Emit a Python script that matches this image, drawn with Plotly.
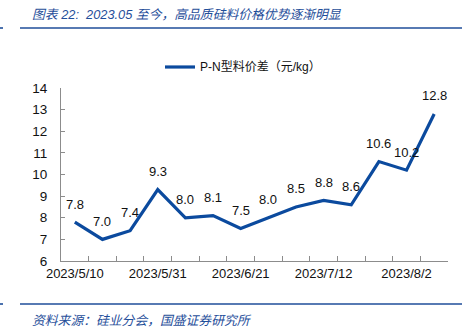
import plotly.graph_objects as go

# Weekly P-N polysilicon price spread (yuan/kg)
dates = ["2023/5/10", "2023/5/17", "2023/5/24", "2023/5/31", "2023/6/7",
         "2023/6/14", "2023/6/21", "2023/6/28", "2023/7/5", "2023/7/12",
         "2023/7/19", "2023/7/26", "2023/8/2", "2023/8/9"]
spread = [7.8, 7.0, 7.4, 9.3, 8.0, 8.1, 7.5, 8.0, 8.5, 8.8, 8.6, 10.6, 10.2, 12.8]
series_name = "P-N型料价差（元/kg）"
y_ticks = [6, 7, 8, 9, 10, 11, 12, 13, 14]
title_text = "图表 22:  2023.05 至今，高品质硅料价格优势逐渐明显"
source_text = "资料来源：硅业分会，国盛证券研究所"

line_color = "#0B4A9E"
title_color = "#1F4E9A"
axis_color = "#8C8C8C"
font_main = "Liberation Sans, Arial, Noto Sans CJK SC"

tick_labels = [d if i % 3 == 0 else "" for i, d in enumerate(dates)]

fig = go.Figure()
fig.add_trace(go.Scatter(
    x=dates, y=spread, mode="lines",
    line=dict(color=line_color, width=3.2),
    name=series_name, showlegend=False, cliponaxis=False,
))

# Value labels floated above each point
for d, v in zip(dates, spread):
    fig.add_annotation(x=d, y=v, text=f"{v:.1f}", showarrow=False,
                       xanchor="center", yanchor="middle", yshift=18,
                       font=dict(size=13, color="#111111", family=font_main))

fig.update_layout(
    width=472, height=334,
    margin=dict(l=61, r=24, t=88, b=73),
    paper_bgcolor="white", plot_bgcolor="white",
    font=dict(family=font_main, size=13, color="#111111"),
    xaxis=dict(
        type="category", tickmode="array", tickvals=dates, ticktext=tick_labels,
        tickson="boundaries", ticks="inside", ticklen=5, tickcolor=axis_color,
        showline=True, linecolor=axis_color, linewidth=1, showgrid=False,
        tickangle=0, tickfont=dict(size=13, family=font_main),
        range=[-0.5, len(dates) - 0.5],
    ),
    yaxis=dict(
        range=[6, 14], tickvals=y_ticks, ticks="inside", ticklen=4,
        tickcolor=axis_color, showline=True, linecolor=axis_color, linewidth=1,
        showgrid=False, zeroline=False, tickfont=dict(size=13.5, family=font_main),
        ticklabelstandoff=10,
    ),
)

# Header, rules and legend drawn in paper pixels
def px_x(x):
    return (x - 61) / (472 - 61 - 24)

def px_y(y):
    return (334 - 73 - y) / (334 - 88 - 73)

fig.add_annotation(x=px_x(30), y=px_y(14), xref="paper", yref="paper",
                   text="<i>" + title_text + "</i>", showarrow=False,
                   xanchor="left", yanchor="middle",
                   font=dict(size=12.8, color=title_color, family="Liberation Sans, Noto Sans CJK SC"))
for yy in (28, 304):
    fig.add_shape(type="line", xref="paper", yref="paper",
                  x0=px_x(20), x1=px_x(462), y0=px_y(yy), y1=px_y(yy),
                  line=dict(color=title_color, width=1.6))
    fig.add_shape(type="line", xref="paper", yref="paper",
                  x0=px_x(0), x1=px_x(3), y0=px_y(yy), y1=px_y(yy),
                  line=dict(color=title_color, width=1.6))
fig.add_annotation(x=px_x(30), y=px_y(319), xref="paper", yref="paper",
                   text="<i>" + source_text + "</i>", showarrow=False,
                   xanchor="left", yanchor="middle",
                   font=dict(size=12.8, color=title_color, family="Noto Sans CJK SC"))

# Legend entry
fig.add_shape(type="line", xref="paper", yref="paper",
              x0=px_x(165), x1=px_x(195), y0=px_y(67), y1=px_y(67),
              line=dict(color=line_color, width=3.2))
fig.add_annotation(x=px_x(198), y=px_y(67), xref="paper", yref="paper",
                   text=series_name, showarrow=False, xanchor="left", yanchor="middle",
                   font=dict(size=12, color="#111111", family=font_main))

fig.write_html("out.html")
